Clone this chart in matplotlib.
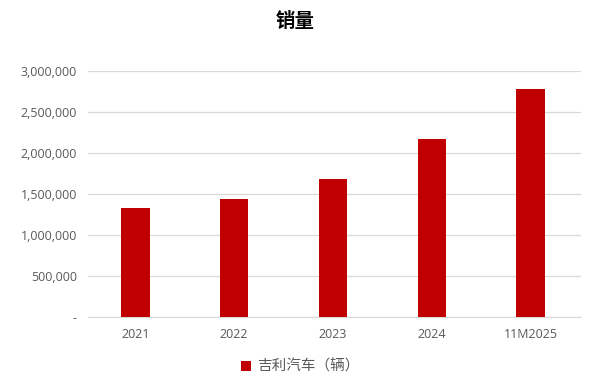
import matplotlib
matplotlib.use('Agg')
import matplotlib.pyplot as plt
from matplotlib.ticker import FuncFormatter

plt.rcParams['font.family'] = ['Noto Sans CJK SC', 'DejaVu Sans']

# data
years = ['2021', '2022', '2023', '2024', '11M2025']
sales = [1328029, 1432988, 1686516, 2176567, 2788000]
series_name = '吉利汽车（辆）'

fig = plt.figure(figsize=(5.91, 3.87), dpi=100)
ax = fig.add_axes([0.149, 0.182, 0.834, 0.634])

ax.bar(years, sales, width=0.29, color='#c00000', label=series_name, zorder=3)

ax.set_ylim(0, 3000000)
ax.set_yticks(range(0, 3000001, 500000))
ax.yaxis.set_major_formatter(FuncFormatter(lambda v, p: '-' if v == 0 else f'{int(v):,}'))
ax.grid(axis='y', color='#d9d9d9', lw=0.9, zorder=0)
ax.set_xlim(-0.477, 4.508)

for s in ['top', 'right', 'left']:
    ax.spines[s].set_visible(False)
ax.spines['bottom'].set_color('#d9d9d9')
ax.tick_params(length=0, labelsize=9, labelcolor='#595959')
ax.tick_params(axis='x', pad=8)
ax.tick_params(axis='y', pad=8)
for t in ax.get_xticklabels() + ax.get_yticklabels():
    t.set_family(['Open Sans', 'DejaVu Sans'])

fig.text(0.5, 0.945, '销量', ha='center', va='center', fontsize=14, fontweight='bold')

fig.legend(loc='center', bbox_to_anchor=(0.508, 0.052), frameon=False,
           handlelength=0.7, handleheight=0.7, handletextpad=0.4,
           prop={'size': 10.5}, labelcolor='#595959')

fig.savefig('out.png', dpi=100)
